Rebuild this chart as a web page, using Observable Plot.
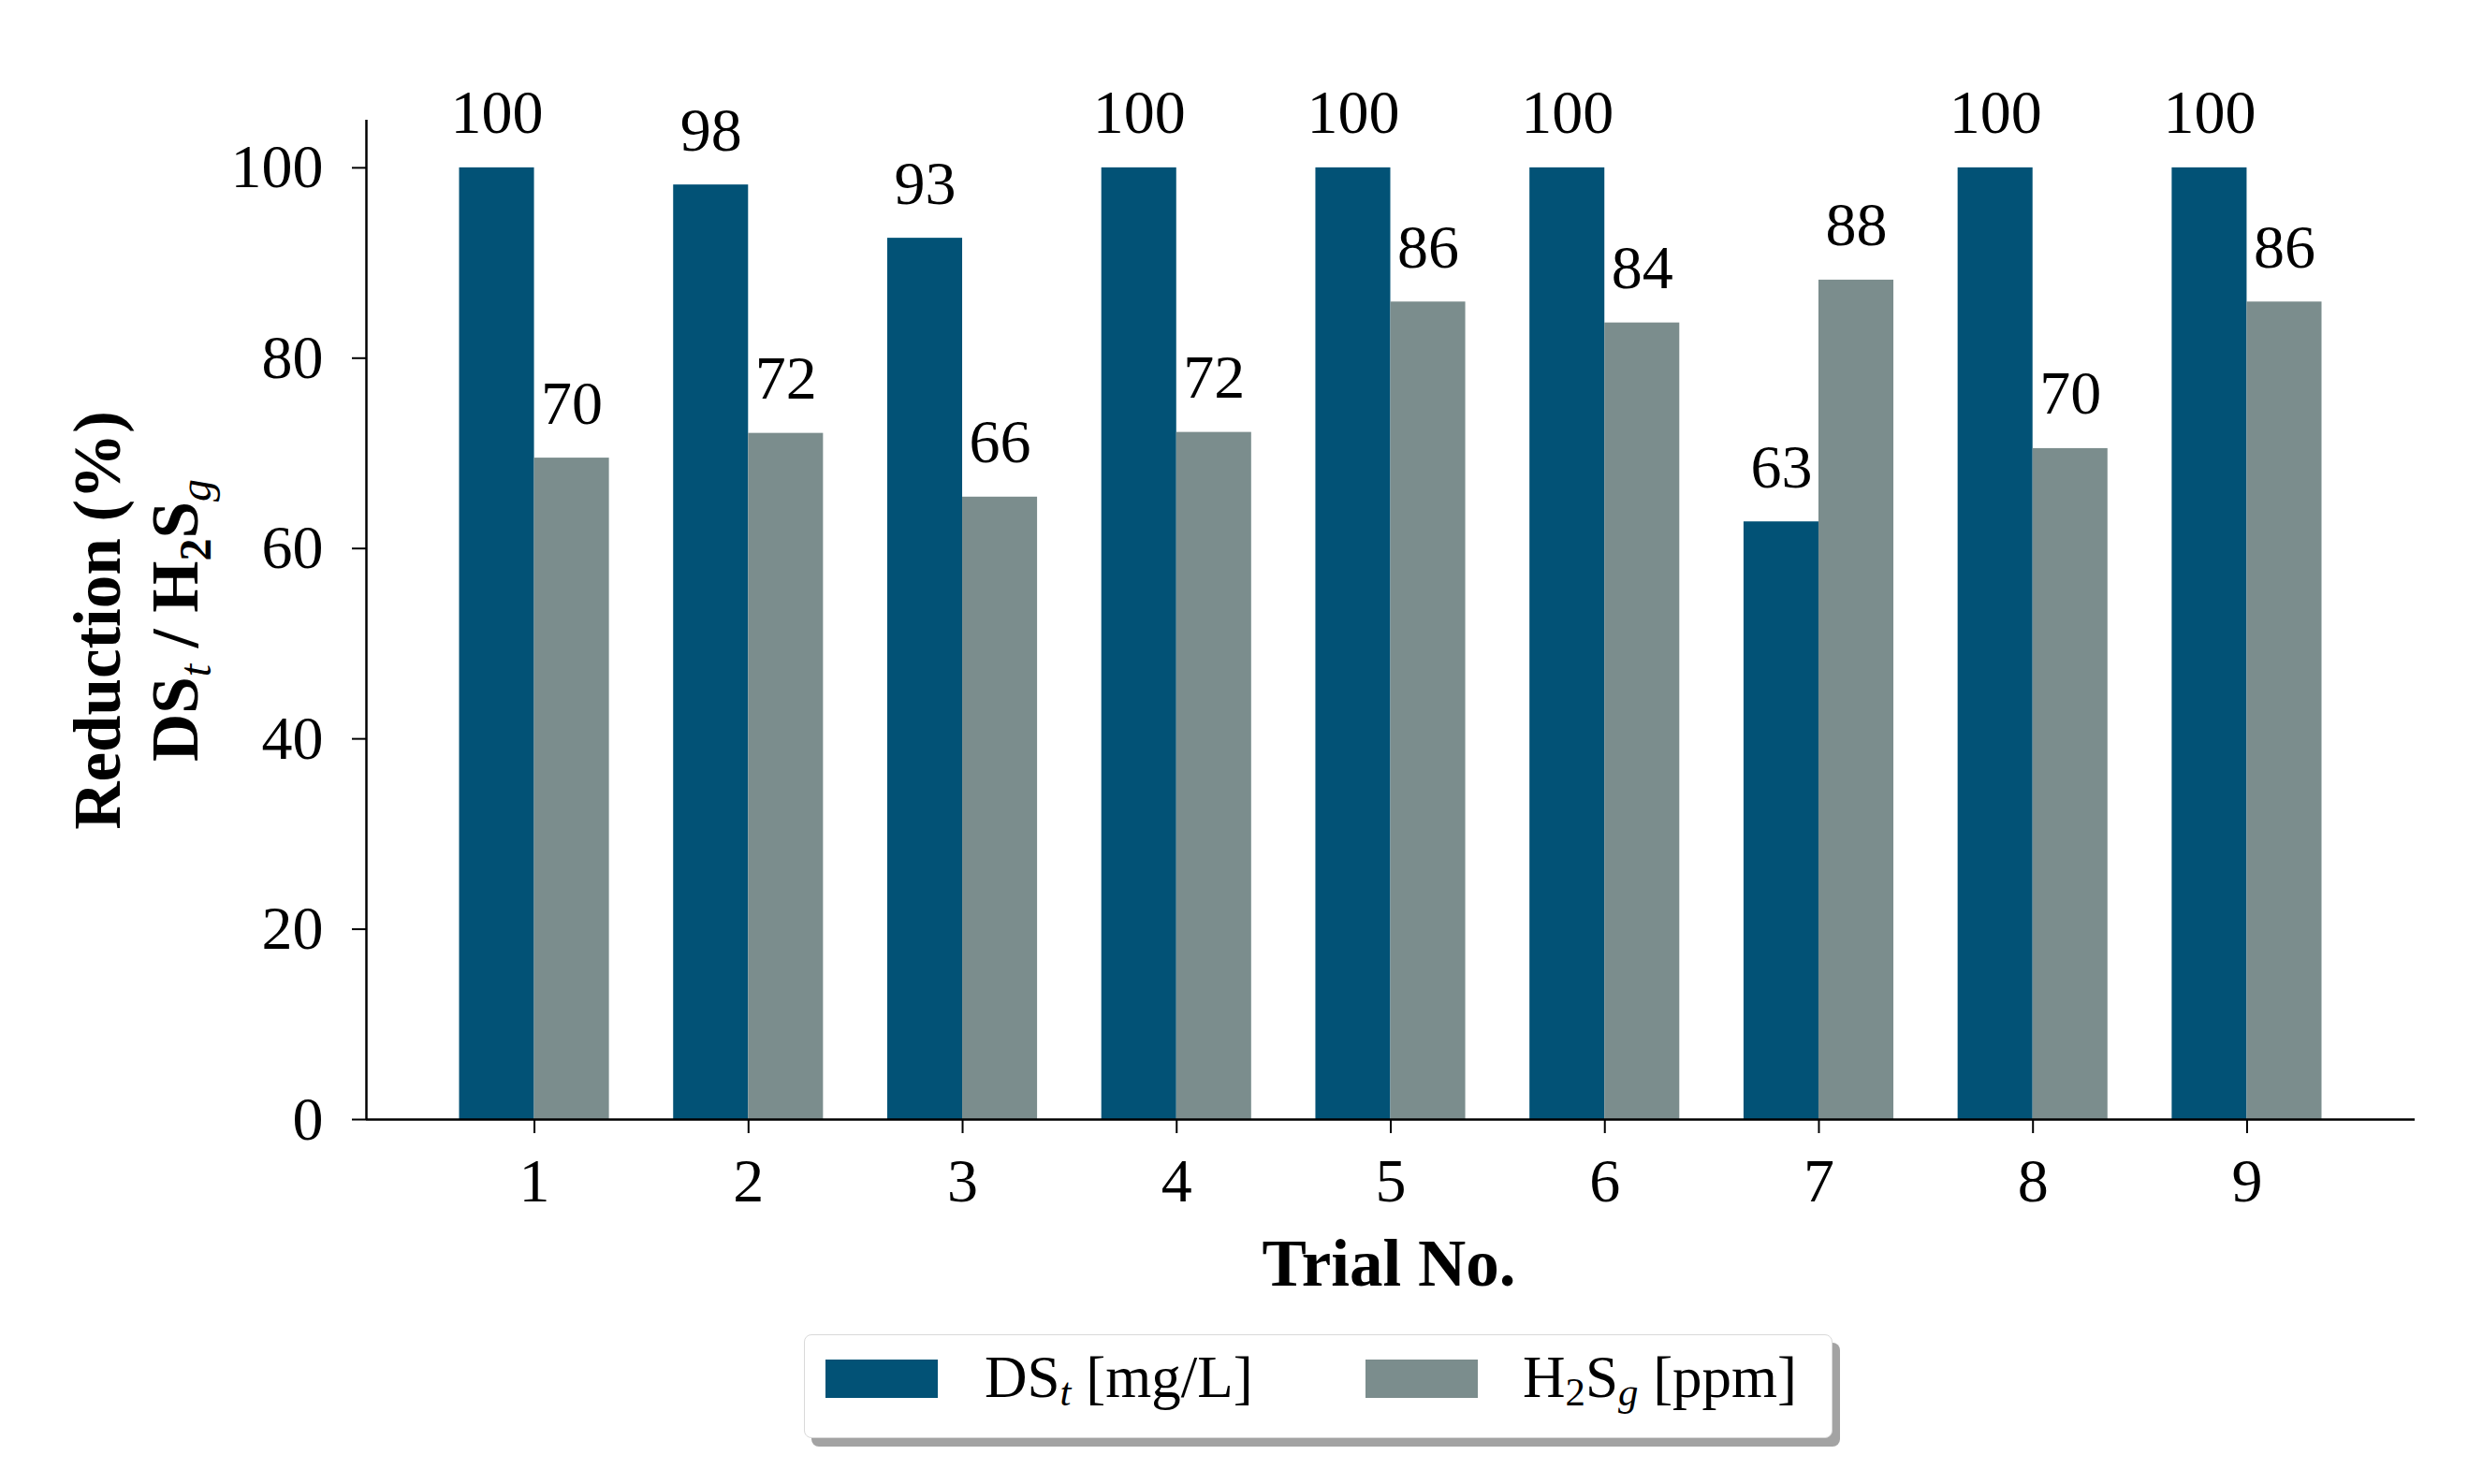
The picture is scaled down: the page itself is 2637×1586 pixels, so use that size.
<!DOCTYPE html>
<html><head><meta charset="utf-8">
<script src="https://cdn.jsdelivr.net/npm/d3@7"></script>
<script src="https://cdn.jsdelivr.net/npm/@observablehq/plot@0.6"></script>
<style>
body{margin:0;background:#fff;}
#wrap{position:relative;width:2637px;height:1586px;font-family:"Liberation Serif",serif;color:#000;}
#legend{position:absolute;left:859px;top:1426px;width:1099px;height:111px;box-sizing:border-box;border:1.5px solid #d9d9d9;border-radius:8px;background:#fff;box-shadow:8px 9px 0 #a3a3a3;}
.sw{position:absolute;top:26px;width:120px;height:41px;}
.lt{position:absolute;top:14px;font-size:63px;line-height:63px;white-space:nowrap;}
.sb{font-size:0.68em;position:relative;top:0.22em;}
</style>
</head><body>
<div id="wrap"><div id="chart"></div>
<div id="legend">
  <div class="sw" style="left:22px;background:#025276"></div>
  <div class="lt" style="left:192px">DS<span class="sb"><i>t</i></span> [mg/L]</div>
  <div class="sw" style="left:599px;background:#7b8d8d"></div>
  <div class="lt" style="left:767px">H<span class="sb">2</span>S<span class="sb"><i>g</i></span> [ppm]</div>
</div>
</div>
<script>
const trials = [1, 2, 3, 4, 5, 6, 7, 8, 9];
const dsValues = [100, 98.2, 92.6, 100, 100, 100, 62.8, 100, 100];
const h2sValues = [69.5, 72.1, 65.4, 72.2, 85.9, 83.7, 88.2, 70.5, 85.9];
const dsLabels = [100, 98, 93, 100, 100, 100, 63, 100, 100];
const h2sLabels = [70, 72, 66, 72, 86, 84, 88, 70, 86];
const yTicks = [0, 20, 40, 60, 80, 100];
const seriesNames = ["DS", "H2S"];
const seriesColors = ["#025276", "#7b8d8d"];

const barWidth = 0.35;
const rows = [];
trials.forEach((t, i) => {
  rows.push({series: "DS", trial: t, value: dsValues[i], label: dsLabels[i], x1: t - barWidth, x2: t, xc: t - barWidth / 2});
  rows.push({series: "H2S", trial: t, value: h2sValues[i], label: h2sLabels[i], x1: t, x2: t + barWidth, xc: t + barWidth / 2});
});
const xDomain = [0.215, 9.785];
const yDomain = [0, 105];

const chart = Plot.plot({
  width: 2637, height: 1400,
  marginLeft: 391, marginRight: 57, marginTop: 128, marginBottom: 204,
  style: {fontFamily: "Liberation Serif, serif", fontSize: "66px", color: "#000", background: "#fff"},
  x: {type: "linear", domain: xDomain},
  y: {domain: yDomain},
  color: {domain: seriesNames, range: seriesColors},
  marks: [
    Plot.rect(rows, {x1: "x1", x2: "x2", y1: 0, y2: "value", fill: "series"}),
    Plot.text(rows, {x: "xc", y: "value", text: "label", dy: -37, lineAnchor: "bottom", fontSize: 66, fill: "#000"}),
    Plot.axisY({ticks: yTicks, tickSize: 15, tickPadding: 31, fontSize: 66, label: null, strokeWidth: 2}),
    Plot.axisX({ticks: trials, tickSize: 15, tickPadding: 26, fontSize: 66, label: null, strokeWidth: 2}),
    Plot.ruleX([xDomain[0]], {y1: yDomain[0], y2: yDomain[1], strokeWidth: 2.5}),
    Plot.ruleY([0], {strokeWidth: 2.5})
  ]
});
document.getElementById("chart").appendChild(chart);

const svg = d3.select(chart);
const g = svg.append("g").attr("font-family", "Liberation Serif, serif").attr("font-weight", "bold").attr("fill", "#000");
g.append("text").attr("transform", "translate(128,663) rotate(-90)").attr("text-anchor", "middle").attr("font-size", 71).text("Reduction (%)");
const t2 = g.append("text").attr("transform", "translate(211,663) rotate(-90)").attr("text-anchor", "middle").attr("font-size", 71);
t2.append("tspan").text("DS");
t2.append("tspan").attr("font-size", 48).attr("font-style", "italic").attr("font-weight", "normal").attr("dy", 14).text("t");
t2.append("tspan").attr("dy", -14).text(" / H");
t2.append("tspan").attr("font-size", 48).attr("dy", 14).text("2");
t2.append("tspan").attr("dy", -14).text("S");
t2.append("tspan").attr("font-size", 48).attr("font-style", "italic").attr("font-weight", "normal").attr("dy", 14).text("g");
g.append("text").attr("x", 1484).attr("y", 1374).attr("text-anchor", "middle").attr("font-size", 71).text("Trial No.");
</script>
</body></html>
